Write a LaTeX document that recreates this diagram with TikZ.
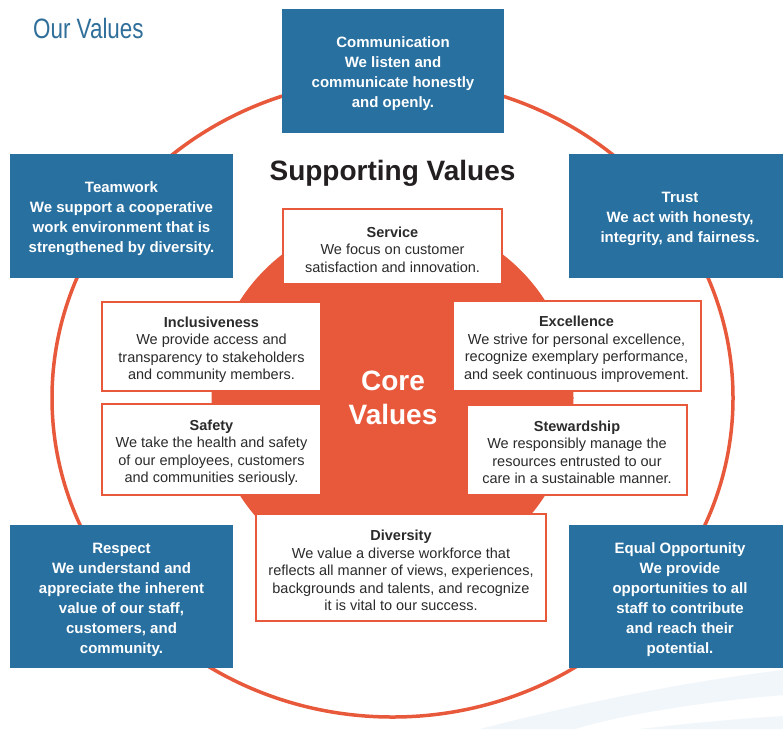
\documentclass[tikz,border=0pt]{standalone}
\usepackage{fontspec}
\setmainfont{Liberation Sans}
\newfontfamily\ovfont[FakeStretch=0.8]{Liberation Sans}
\definecolor{supblue}{HTML}{2870A0}
\definecolor{coreorange}{HTML}{E8593B}
\definecolor{ovblue}{HTML}{2F6F99}
\definecolor{darktext}{HTML}{2B2B2B}
\definecolor{headtext}{HTML}{231F20}
\definecolor{swoosh}{HTML}{F0F6F9}
\begin{document}
\begin{tikzpicture}[x=1pt,y=-1pt,
  supbox/.style={fill=supblue, draw=none, inner sep=0pt},
  suptext/.style={text=white, align=center, inner sep=0pt, yshift=-3pt,
    font=\fontsize{15}{20}\selectfont\bfseries},
  corebox/.style={fill=white, draw=coreorange, line width=2pt, inner sep=0pt},
  coretext/.style={text=darktext, align=center, inner sep=0pt, yshift=-3pt,
    font=\fontsize{14.5}{17.5}\selectfont},
  ring/.style={draw=coreorange, line width=3.5pt},
  disc/.style={fill=coreorange},
  faint/.style={fill=swoosh, draw=none}
]
\fill[white] (0,0) rectangle (783,729);
\useasboundingbox (0,0) rectangle (783,729);

% faint swooshes (bottom right)
\fill[faint] (480,729) .. controls (600,698) and (700,680) .. (783,670) -- (783,695) .. controls (700,702) and (620,715) .. (575,729) -- cycle;
\fill[faint] (640,729) .. controls (700,722) and (750,718) .. (783,716) -- (783,729) -- cycle;

% outer ring and core disc
\draw[ring] (392.5,398) ellipse [x radius=340.5pt, y radius=319pt];
\fill[disc] (392.5,398) circle [radius=181pt];

% title texts
\node[anchor=base west, text=ovblue, font=\ovfont\fontsize{28}{32}\selectfont, inner sep=0pt] (ourvalues) at (33,38) {Our Values};
\node[text=headtext, font=\fontsize{28}{32}\selectfont\bfseries, inner sep=0pt] (supporting) at (392.5,173) {Supporting Values};
\node[text=white, font=\fontsize{28}{34}\selectfont\bfseries, align=center, inner sep=0pt] (corevalues) at (393,398) {Core\\Values};

% supporting value boxes
\node[supbox, minimum width=222pt, minimum height=124pt,
  label={[suptext]center:{Communication\\We listen and\\communicate honestly\\and openly.}}] (comm) at (393,71) {};
\node[supbox, minimum width=223pt, minimum height=124pt,
  label={[suptext]center:{Teamwork\\We support a cooperative\\work environment that is\\strengthened by diversity.}}] (team) at (121.5,216) {};
\node[supbox, minimum width=222pt, minimum height=124pt,
  label={[suptext]center:{Trust\\We act with honesty,\\integrity, and fairness.}}] (trust) at (680,216) {};
\node[supbox, minimum width=223pt, minimum height=143pt,
  label={[suptext]center:{Respect\\We understand and\\appreciate the inherent\\value of our staff,\\customers, and\\community.}}] (respect) at (121.5,596.5) {};
\node[supbox, minimum width=222pt, minimum height=143pt,
  label={[suptext]center:{Equal Opportunity\\We provide\\opportunities to all\\staff to contribute\\and reach their\\potential.}}] (equal) at (680,596.5) {};

% core value boxes
\node[corebox, minimum width=219pt, minimum height=75pt,
  label={[coretext]center:{{\bfseries Service}\\We focus on customer\\satisfaction and innovation.}}] (service) at (392.5,246.5) {};
\node[corebox, minimum width=219pt, minimum height=89pt,
  label={[coretext]center:{{\bfseries Inclusiveness}\\We provide access and\\transparency to stakeholders\\and community members.}}] (incl) at (211.5,346.5) {};
\node[corebox, minimum width=248pt, minimum height=90pt,
  label={[coretext]center:{{\bfseries Excellence}\\We strive for personal excellence,\\recognize exemplary performance,\\and seek continuous improvement.}}] (excel) at (576.5,346) {};
\node[corebox, minimum width=219pt, minimum height=91pt,
  label={[coretext]center:{{\bfseries Safety}\\We take the health and safety\\of our employees, customers\\and communities seriously.}}] (safety) at (211.5,449.5) {};
\node[corebox, minimum width=220pt, minimum height=90pt,
  label={[coretext]center:{{\bfseries Stewardship}\\We responsibly manage the\\resources entrusted to our\\care in a sustainable manner.}}] (stew) at (577,449.5) {};
\node[corebox, minimum width=290pt, minimum height=107pt,
  label={[coretext]center:{{\bfseries Diversity}\\We value a diverse workforce that\\reflects all manner of views, experiences,\\backgrounds and talents, and recognize\\it is vital to our success.}}] (div) at (401,567.5) {};
\end{tikzpicture}
\end{document}
